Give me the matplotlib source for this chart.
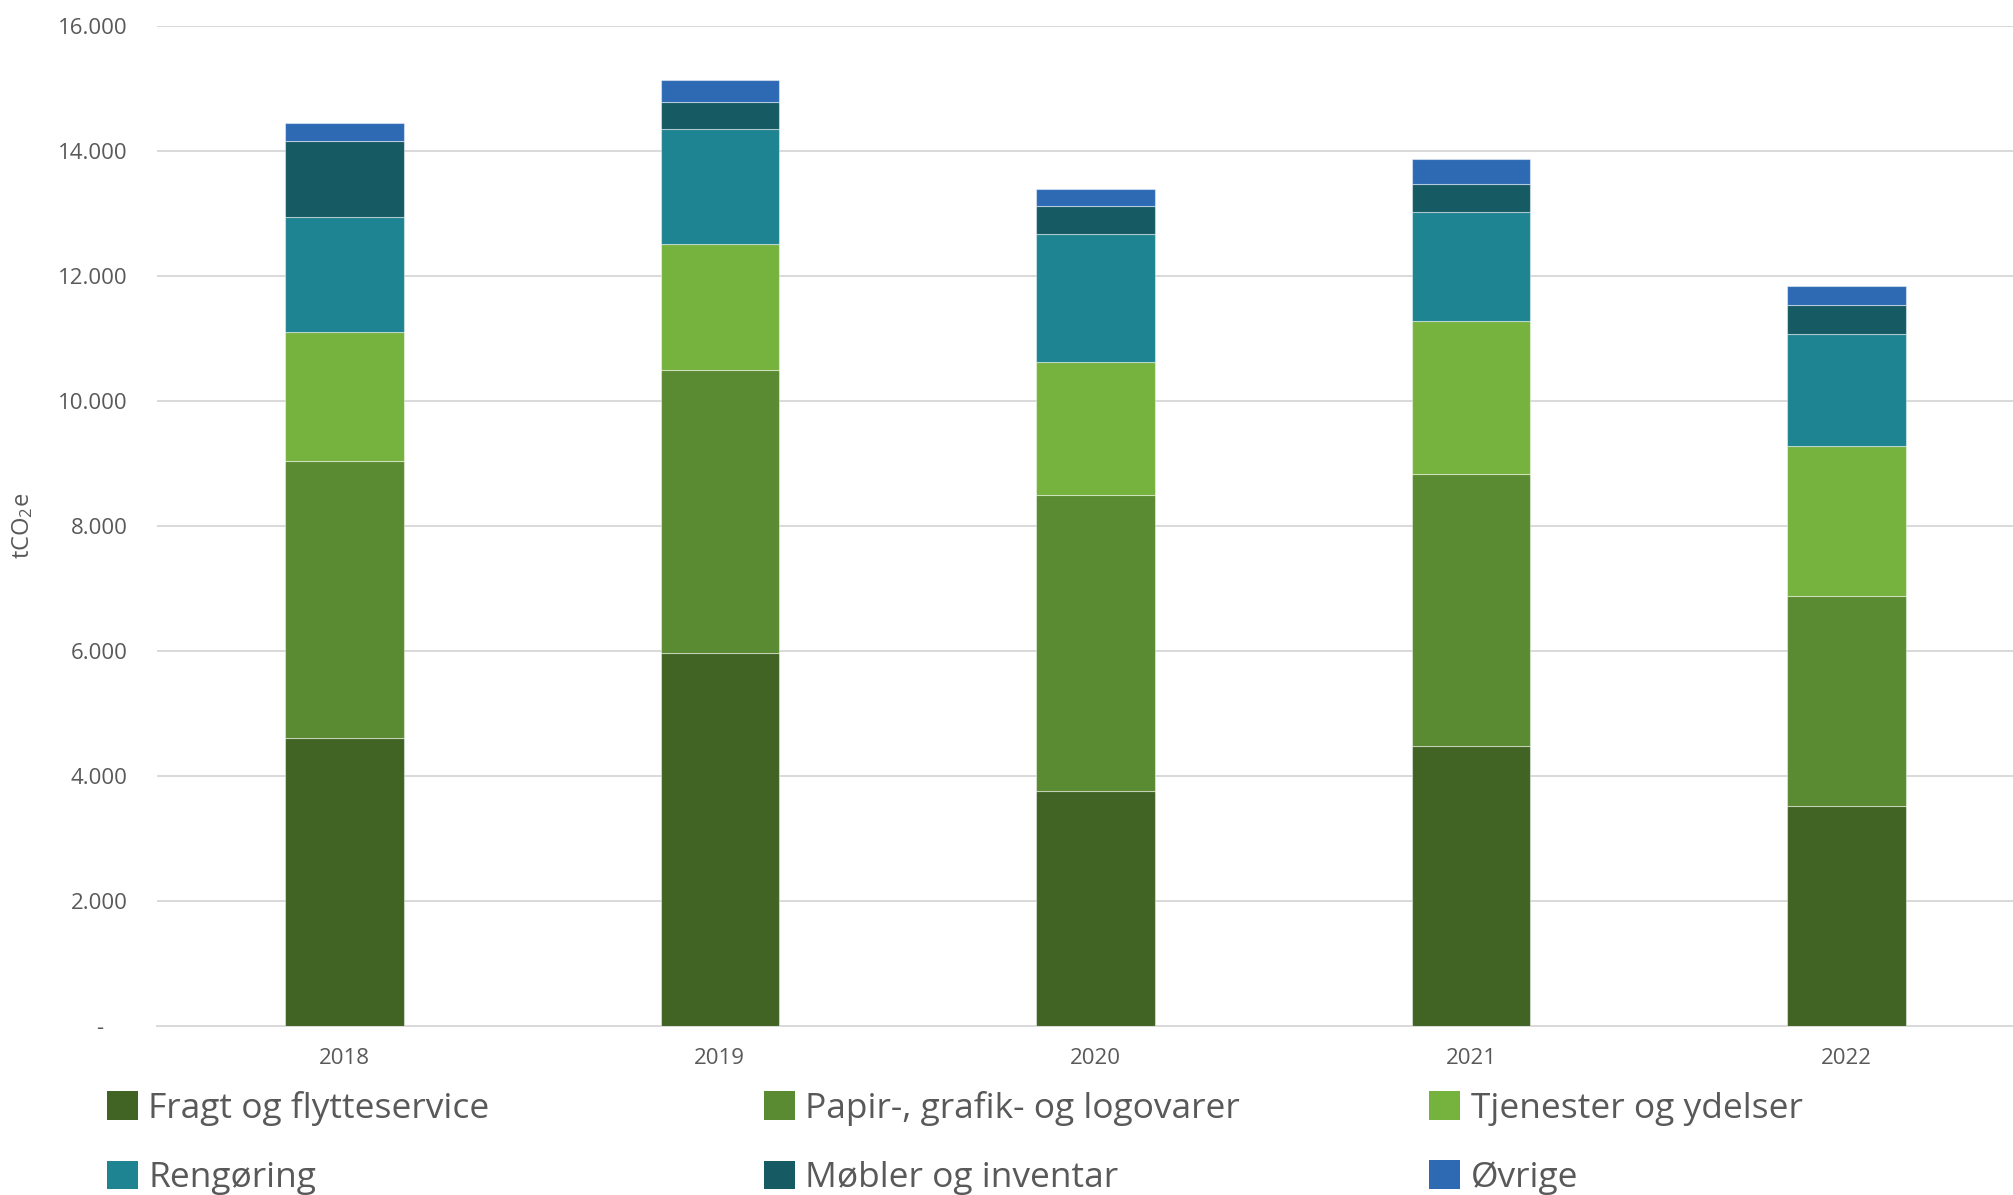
import numpy as np
import matplotlib
matplotlib.use("Agg")
import matplotlib.pyplot as plt
from matplotlib.patches import Patch
from matplotlib.ticker import FuncFormatter

plt.rcParams['font.family'] = ['Open Sans', 'DejaVu Sans']
plt.rcParams['mathtext.default'] = 'regular'

# Indkøb - CO2e pr. kategori (tCO2e)
years = ['2018', '2019', '2020', '2021', '2022']
fragt = [4600, 5970, 3758, 4478, 3512]
papir = [4438, 4523, 4735, 4346, 3370]
tjenester = [2058, 2016, 2128, 2453, 2395]
rengoring = [1840, 1835, 2043, 1744, 1792]
mobler = [1226, 442, 458, 453, 469]
ovrige = [278, 342, 262, 390, 299]

labels = ['Fragt og flytteservice', 'Papir-, grafik- og logovarer', 'Tjenester og ydelser',
          'Rengøring', 'Møbler og inventar', 'Øvrige']
colors = ['#416324', '#5A8A31', '#76B33E', '#1F8491', '#165B64', '#2E6AB4']
series = [fragt, papir, tjenester, rengoring, mobler, ovrige]

grey = '#595959'

fig = plt.figure(figsize=(20.13, 11.95), dpi=100)
ax = fig.add_axes([0.0778, 0.1416, 0.9327, 0.8369])

x = np.arange(len(years))
bottom = np.zeros(len(years))
for vals, col, lab in zip(series, colors, labels):
    ax.bar(x, vals, 0.315, bottom=bottom, color=col, label=lab,
           edgecolor=(1, 1, 1, 0.45), linewidth=0.8, zorder=3)
    bottom += np.array(vals)

ax.set_xlim(-0.5, 4.5)
ax.set_ylim(0, 16000)
ax.set_yticks(np.arange(0, 16001, 2000))

def fmt(v, pos):
    if v == 0:
        return '-    '
    return f'{int(v):,}'.replace(',', '.')

ax.yaxis.set_major_formatter(FuncFormatter(fmt))
ax.set_xticks(x)
ax.set_xticklabels(years)
ax.tick_params(axis='both', length=0, labelsize=16, colors=grey)
ax.tick_params(axis='y', pad=21)
ax.tick_params(axis='x', pad=16)

ax.grid(axis='y', color='#D9D9D9', linewidth=1.4, zorder=0)
for s in ['top', 'right', 'left']:
    ax.spines[s].set_visible(False)
ax.spines['bottom'].set_color('#D9D9D9')
ax.spines['bottom'].set_linewidth(1.4)

fig.text(0.0115, 0.56, 'tCO$_2$e', rotation=90, fontsize=17, color=grey,
         ha='center', va='center')

# legend: three columns, two rows
col_x = [0.053, 0.3795, 0.710]
for i, cx in enumerate(col_x):
    handles = [Patch(facecolor=colors[i], label=labels[i]),
               Patch(facecolor=colors[i + 3], label=labels[i + 3])]
    fig.legend(handles=handles, loc='upper left', bbox_to_anchor=(cx, 0.087),
               frameon=False, fontsize=25.5, labelcolor=grey,
               handlelength=0.87, handleheight=0.87, handletextpad=0.3,
               labelspacing=0.98, borderpad=0, borderaxespad=0)

fig.savefig('out.png', dpi=100)
